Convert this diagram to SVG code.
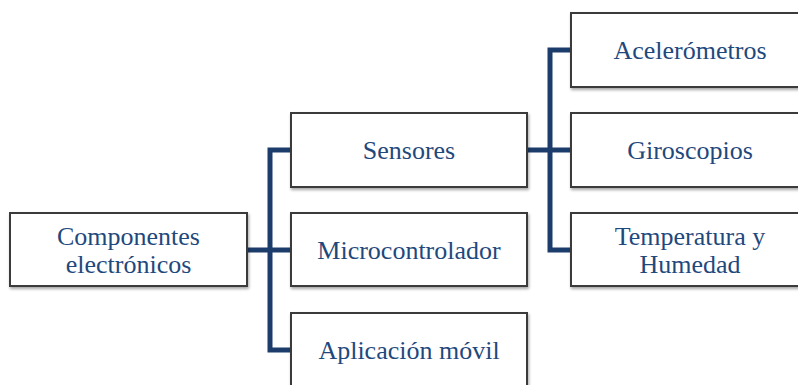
<svg xmlns="http://www.w3.org/2000/svg" width="798" height="385" viewBox="0 0 798 385">
<style>
.box{fill:#fff;stroke:#3a3a3a;stroke-width:2;filter:url(#sh)}
.t{font-family:"Liberation Serif","Times New Roman",serif;font-size:26px;fill:#1f497d;text-anchor:middle}
.c{fill:none;stroke:#1c3d6b;stroke-width:5}
</style>
<defs>
<filter id="sh" x="-10%" y="-20%" width="120%" height="150%">
<feDropShadow dx="1" dy="2" stdDeviation="1.5" flood-color="#000" flood-opacity="0.35"/>
</filter>
</defs>
<rect width="798" height="385" fill="#fff"/>
<g id="connectors">
<path class="c" d="M247 250H291"/>
<path class="c" d="M291 150H270V350H291"/>
<path class="c" d="M527 150H571"/>
<path class="c" d="M571 50H550V250H571"/>
</g>
<g id="componentes">
<rect class="box" x="10" y="213" width="237" height="73"/>
<text class="t" x="128.5" y="245">Componentes</text>
<text class="t" x="128.5" y="273">electrónicos</text>
</g>
<g id="sensores">
<rect class="box" x="291" y="113" width="236" height="74"/>
<text class="t" x="409" y="159">Sensores</text>
</g>
<g id="microcontrolador">
<rect class="box" x="291" y="213" width="236" height="73"/>
<text class="t" x="409" y="259">Microcontrolador</text>
</g>
<g id="aplicacion">
<rect class="box" x="291" y="313" width="236" height="74"/>
<text class="t" x="409" y="359">Aplicación móvil</text>
</g>
<g id="acelerometros">
<rect class="box" x="571" y="13" width="236" height="74"/>
<text class="t" x="690" y="59">Acelerómetros</text>
</g>
<g id="giroscopios">
<rect class="box" x="571" y="113" width="236" height="74"/>
<text class="t" x="690" y="159">Giroscopios</text>
</g>
<g id="temperatura">
<rect class="box" x="571" y="213" width="236" height="73"/>
<text class="t" x="690" y="245">Temperatura y</text>
<text class="t" x="690" y="273">Humedad</text>
</g>
</svg>
